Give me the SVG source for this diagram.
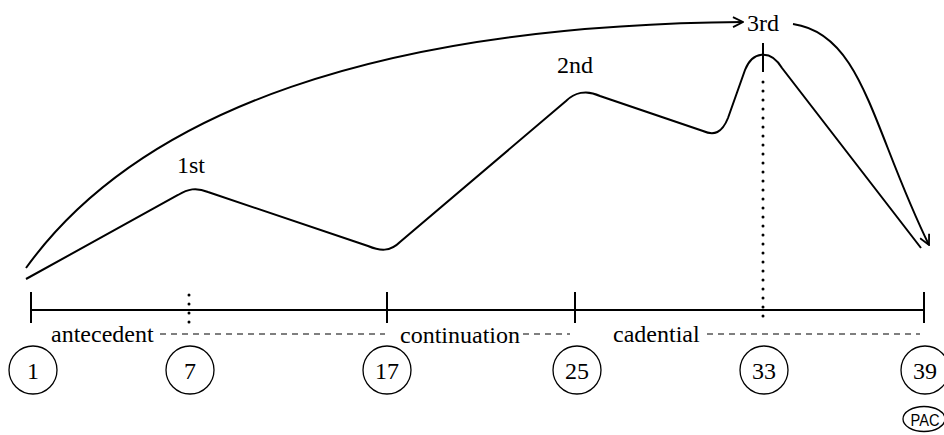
<svg xmlns="http://www.w3.org/2000/svg" width="944" height="435" viewBox="0 0 944 435">
  <style>
    .ln { fill: none; stroke: #000; stroke-width: 2; }
    .tick { fill: none; stroke: #000; stroke-width: 2; }
    .dash { fill: none; stroke: #000; stroke-width: 1.2; stroke-dasharray: 6 5; }
    .dots { fill: none; stroke: #000; stroke-width: 3; stroke-linecap: round; stroke-dasharray: 0 9; }
    .lbl { font-family: "Liberation Serif", "Times New Roman", serif; font-size: 24px; fill: #000; }
    .num { font-family: "Liberation Serif", "Times New Roman", serif; font-size: 24px; fill: #000; text-anchor: middle; }
    .ring { fill: #fff; stroke: #000; stroke-width: 1.3; }
    .pac { font-family: "Liberation Sans", Arial, sans-serif; font-size: 17px; fill: #000; text-anchor: middle; }
  </style>
  <defs>
    <marker id="arrow" viewBox="0 0 12 12" refX="11" refY="6" markerWidth="12" markerHeight="12" markerUnits="userSpaceOnUse" orient="auto">
      <path d="M1,1 L11,6 L1,11" fill="none" stroke="#000" stroke-width="1.8"/>
    </marker>
  </defs>

  <rect width="944" height="435" fill="#fff"/>

  <!-- melodic contour -->
  <g id="contour">
    <path class="ln" d="M26,279 L178,195 C188,189 196,187 208,192 L368,246 C380,251 390,252 400,242 L566,101 C574,93 586,89 600,96 L703,131 C714,136 722,133 728,118 L745,70 C752,52 770,48 782,68 L921,248"/>
  </g>

  <!-- peak labels -->
  <g id="peak-1"><text class="lbl" x="177" y="173">1st</text></g>
  <g id="peak-2"><text class="lbl" x="557" y="73">2nd</text></g>
  <g id="peak-3"><text class="lbl" x="747" y="31">3rd</text></g>

  <!-- arcs -->
  <g id="connectors">
    <path class="ln" d="M26,268 C140,110 380,25 743,22" marker-end="url(#arrow)"/>
    <path class="ln" d="M793,24 C863,34 872,129 929,245" marker-end="url(#arrow)"/>
  </g>

  <!-- timeline -->
  <g id="timeline">
    <line class="ln" x1="31" y1="310" x2="924" y2="310"/>
    <line class="tick" x1="31" y1="292" x2="31" y2="323"/>
    <line class="tick" x1="387" y1="292" x2="387" y2="323"/>
    <line class="tick" x1="575" y1="292" x2="575" y2="323"/>
    <line class="tick" x1="924" y1="292" x2="924" y2="323"/>
    <line class="dots" x1="189" y1="295" x2="189" y2="323"/>
    <line class="tick" x1="763" y1="43" x2="763" y2="72"/>
    <line class="dots" x1="763" y1="82" x2="763" y2="325"/>
  </g>

  <!-- sections -->
  <g id="antecedent">
    <text class="lbl" x="51" y="342">antecedent</text>
    <line class="dash" x1="160" y1="334" x2="385" y2="334"/>
  </g>
  <g id="continuation">
    <text class="lbl" x="400" y="343">continuation</text>
    <line class="dash" x1="523" y1="334" x2="570" y2="334"/>
  </g>
  <g id="cadential">
    <text class="lbl" x="613" y="342">cadential</text>
    <line class="dash" x1="707" y1="334" x2="920" y2="334"/>
  </g>

  <!-- measure numbers -->
  <g id="m1"><circle class="ring" cx="33" cy="370" r="24"/><text class="num" x="33" y="379">1</text></g>
  <g id="m7"><circle class="ring" cx="190" cy="370" r="24"/><text class="num" x="190" y="379">7</text></g>
  <g id="m17"><circle class="ring" cx="387" cy="370" r="24"/><text class="num" x="387" y="379">17</text></g>
  <g id="m25"><circle class="ring" cx="577" cy="370" r="24"/><text class="num" x="577" y="379">25</text></g>
  <g id="m33"><circle class="ring" cx="764" cy="370" r="24"/><text class="num" x="764" y="379">33</text></g>
  <g id="m39"><circle class="ring" cx="925" cy="370" r="24"/><text class="num" x="925" y="379">39</text></g>

  <!-- cadence type -->
  <g id="pac">
    <ellipse class="ring" cx="924" cy="419" rx="21" ry="12.5"/>
    <text class="pac" x="925" y="426" textLength="29" lengthAdjust="spacingAndGlyphs">PAC</text>
  </g>
</svg>
